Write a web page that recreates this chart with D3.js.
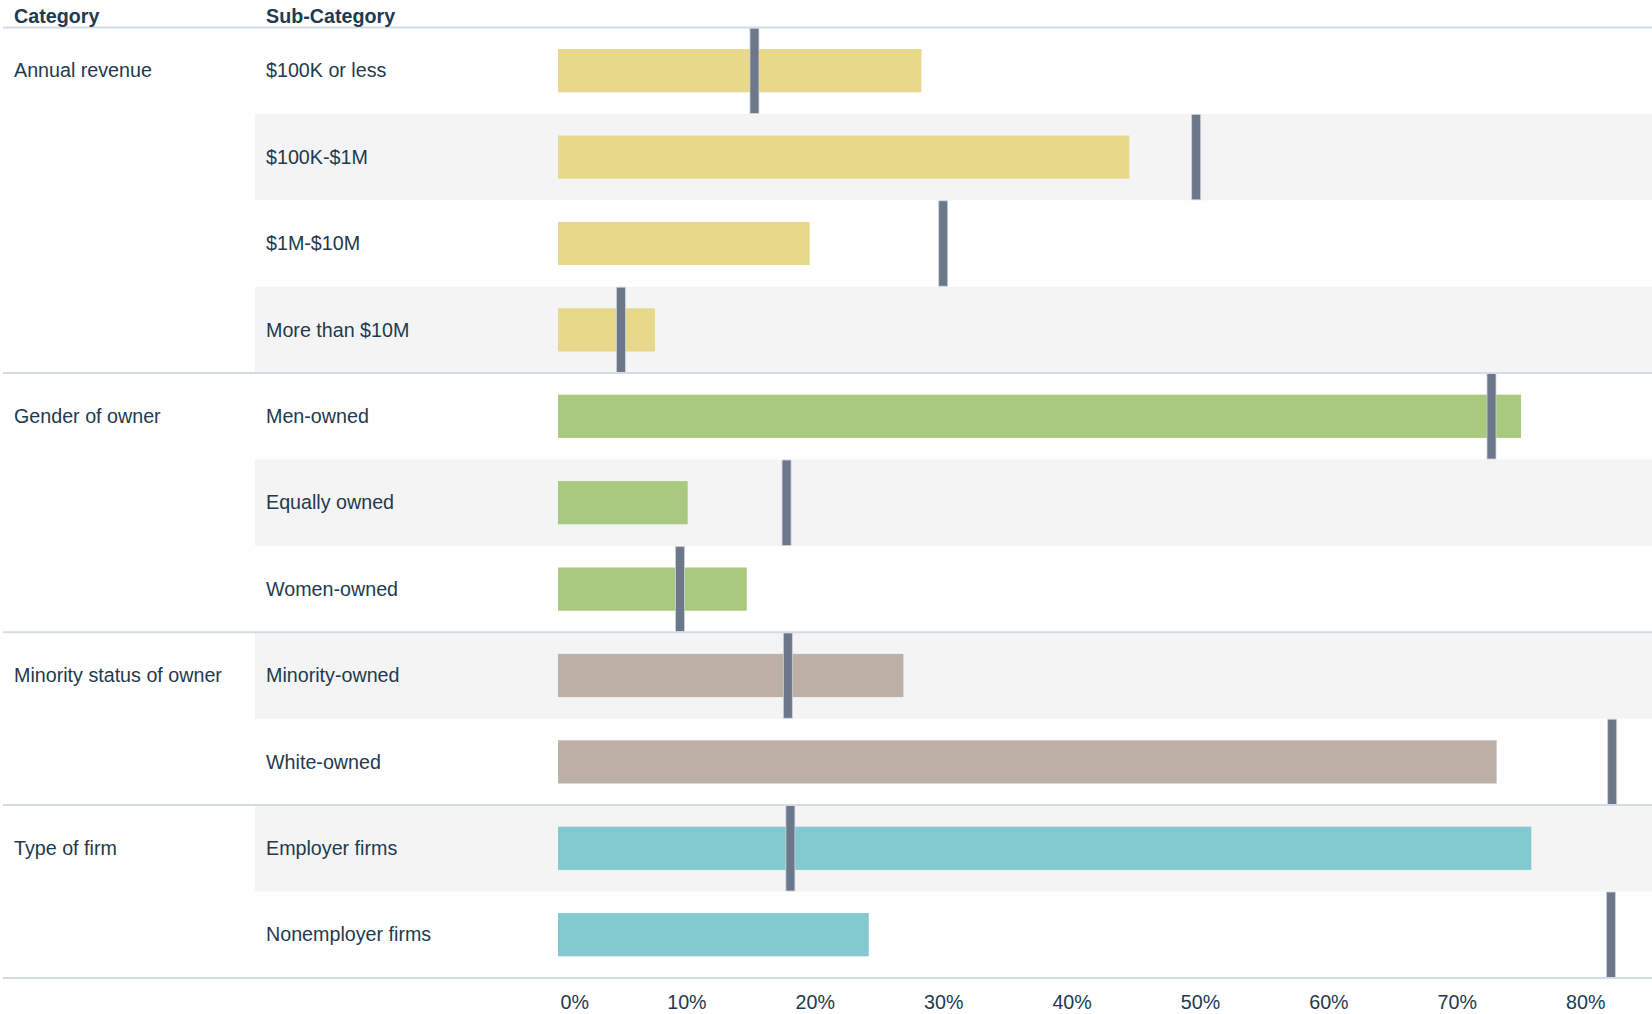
<!DOCTYPE html>
<html><head><meta charset="utf-8">
<script src="https://cdn.jsdelivr.net/npm/d3@7"></script>
<style>
html,body{margin:0;padding:0;background:#fff;}
svg{display:block;font-family:"Liberation Sans",Arial,sans-serif;}
</style></head>
<body><svg id="chart" width="1652" height="1014"></svg>
<script>
const categories = ["Annual revenue","Annual revenue","Annual revenue","Annual revenue",
  "Gender of owner","Gender of owner","Gender of owner",
  "Minority status of owner","Minority status of owner",
  "Type of firm","Type of firm"];
const subCategories = ["$100K or less","$100K-$1M","$1M-$10M","More than $10M",
  "Men-owned","Equally owned","Women-owned",
  "Minority-owned","White-owned",
  "Employer firms","Nonemployer firms"];
const barValues = [0.283,0.445,0.196,0.0755,0.750,0.101,0.147,0.269,0.731,0.758,0.242];
const markerValues = [0.153,0.497,0.300,0.049,0.727,0.178,0.095,0.179,0.821,0.181,0.820];
const tickValues = [0,0.1,0.2,0.3,0.4,0.5,0.6,0.7,0.8];
const tickLabels = ["0%","10%","20%","30%","40%","50%","60%","70%","80%"];
const groupColors = {"Annual revenue":"#e8d88a","Gender of owner":"#a9c97f",
  "Minority status of owner":"#bdb0a7","Type of firm":"#82cad0"};

const W = 1652, H = 1014;
const top0 = 27.5, rowH = 86.4;
const fs = 19.7;
const svg = d3.select("#chart");
const textColor = "#223a4f";

const x = d3.scaleLinear().domain([0, 0.852]).range([558, 1652]);
const y = d3.scaleBand().domain(d3.range(subCategories.length))
  .range([top0, top0 + rowH * subCategories.length]).paddingInner(0).paddingOuter(0);

// stripes
svg.append("g").selectAll("rect").data(d3.range(subCategories.length).filter(i => i % 2 === 1))
  .join("rect").attr("x", 255).attr("y", i => y(i)).attr("width", W - 255).attr("height", y.bandwidth())
  .attr("fill", "#f4f4f4");

// bars
svg.append("g").selectAll("rect").data(d3.range(subCategories.length)).join("rect")
  .attr("x", x(0)).attr("y", i => y(i) + y.bandwidth() * 0.25)
  .attr("width", i => x(barValues[i]) - x(0)).attr("height", y.bandwidth() * 0.5)
  .attr("fill", i => groupColors[categories[i]]);

// markers
svg.append("g").selectAll("rect").data(d3.range(subCategories.length)).join("rect")
  .attr("x", i => x(markerValues[i]) - 4.5).attr("y", i => y(i) + 0.5)
  .attr("width", 9).attr("height", y.bandwidth() - 1)
  .attr("fill", "#6c7789").attr("stroke", "#cdd4dc").attr("stroke-width", 0.8);

// group separator lines
const groupStarts = d3.range(subCategories.length).filter(i => i === 0 || categories[i] !== categories[i-1]);
const lineYs = groupStarts.map(i => y(i)).concat([y(subCategories.length - 1) + y.bandwidth()]);
svg.append("g").selectAll("line").data(lineYs).join("line")
  .attr("x1", 3).attr("x2", W).attr("y1", d => d).attr("y2", d => d)
  .attr("stroke", "#d3dce4").attr("stroke-width", 2);

// headers
svg.append("text").attr("x", 14).attr("y", 23).attr("font-size", fs).attr("font-weight", "bold")
  .attr("fill", textColor).text("Category");
svg.append("text").attr("x", 266).attr("y", 23).attr("font-size", fs).attr("font-weight", "bold")
  .attr("fill", textColor).text("Sub-Category");

// category labels
svg.append("g").selectAll("text").data(groupStarts).join("text")
  .attr("x", 14).attr("y", i => y(i) + y.bandwidth() / 2).attr("dy", "0.34em")
  .attr("font-size", fs).attr("fill", textColor).text(i => categories[i]);

// sub-category labels
svg.append("g").selectAll("text").data(d3.range(subCategories.length)).join("text")
  .attr("x", 266).attr("y", i => y(i) + y.bandwidth() / 2).attr("dy", "0.34em")
  .attr("font-size", fs).attr("fill", textColor).text(i => subCategories[i]);

// axis
const axisY = top0 + rowH * subCategories.length;
const axis = d3.axisBottom(x).tickValues(tickValues).tickFormat((d, i) => tickLabels[i]).tickSize(0).tickPadding(0);
const ag = svg.append("g").attr("transform", `translate(0,${axisY})`).call(axis);
ag.select(".domain").remove();
ag.selectAll("text").attr("font-size", fs).attr("fill", textColor)
  .attr("font-family", '"Liberation Sans",Arial,sans-serif')
  .attr("dy", null).attr("y", 31)
  .attr("text-anchor", (d) => d === 0 ? "start" : "middle")
  .attr("dx", d => d === 0 ? 2 : 0);
</script></body></html>
